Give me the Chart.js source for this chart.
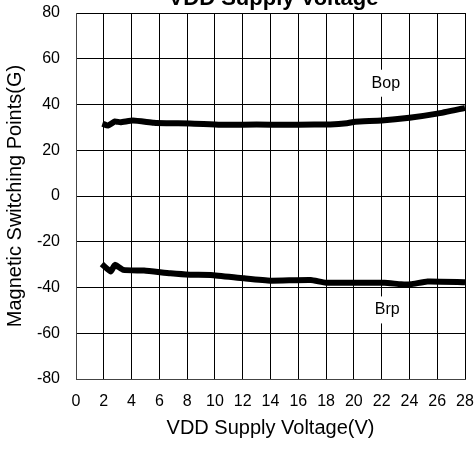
<!DOCTYPE html>
<html>
<head>
<meta charset="utf-8">
<script src="https://cdn.jsdelivr.net/npm/chart.js@4.4.1/dist/chart.umd.min.js"></script>
<style>
html,body{margin:0;padding:0;background:#fff;}
#wrap{width:476px;height:450px;position:relative;}
</style>
</head>
<body>
<div id="wrap"><canvas id="c" width="476" height="450"></canvas></div>
<script>
const chartTitle = "VDD Supply Voltage";
const xTitle = "VDD Supply Voltage(V)";
const yTitle = "Magnetic Switching Points(G)";
const xTicks = [0,2,4,6,8,10,12,14,16,18,20,22,24,26,28];
const yTicks = [-80,-60,-40,-20,0,20,40,60,80];

const bopX = [1.9, 2.3, 2.8, 3.2, 4.1, 5.6, 6.5, 8.2, 10.4, 12, 14, 16, 18.3, 19.5, 20.1, 22, 24, 26, 28];
const bopY = [31.6, 30.8, 32.6, 32.2, 33, 32, 31.8, 31.7, 31.1, 31.2, 31.2, 31.2, 31.3, 31.8, 32.5, 33, 34.2, 36, 38.5];
const brpX = [1.85, 2.5, 2.8, 3.4, 4.9, 6.8, 8.2, 9.7, 12.1, 14, 16.9, 18, 22.2, 23.4, 24.1, 25.3, 28];
const brpY = [-29.7, -33, -30.1, -32.3, -32.6, -33.8, -34.4, -34.5, -36, -37, -36.7, -37.9, -37.9, -38.6, -38.6, -37.4, -37.7];

const labelNames = ["Bop", "Brp"];
const labelX = [22.3, 22.4];
const labelY = [49.3, -49.8];

const FONT = "'Liberation Sans', Arial, sans-serif";

function pts(xs, ys){ return xs.map((x,i)=>({x:x, y:ys[i]})); }

const overlay = {
  id: 'overlay',
  afterDatasetsDraw(chart){
    const ctx = chart.ctx;
    const xs = chart.scales.x, ys = chart.scales.y;
    ctx.save();
    ctx.font = "16px " + FONT;
    ctx.textAlign = 'center';
    ctx.textBaseline = 'middle';
    labelNames.forEach((t,i)=>{
      const px = xs.getPixelForValue(labelX[i]);
      const py = ys.getPixelForValue(labelY[i]);
      const w = ctx.measureText(t).width + 14;
      const h = 27;
      ctx.fillStyle = '#fff';
      ctx.fillRect(px - w/2, py - h/2, w, h);
      ctx.fillStyle = '#000';
      ctx.fillText(t, px, py);
    });
    ctx.font = "bold 22px " + FONT;
    ctx.textBaseline = 'alphabetic';
    ctx.fillText(chartTitle, (chart.chartArea.left + chart.chartArea.right)/2 + 3, 4.5);
    ctx.restore();
  }
};

new Chart(document.getElementById('c'), {
  type: 'line',
  data: {
    datasets: [
      { label: 'Bop', data: pts(bopX, bopY), borderColor: '#000', borderWidth: 6, pointRadius: 0, tension: 0.15, fill: false, borderJoinStyle: 'miter', borderCapStyle: 'butt' },
      { label: 'Brp', data: pts(brpX, brpY), borderColor: '#000', borderWidth: 6, pointRadius: 0, tension: 0.15, fill: false, borderJoinStyle: 'miter', borderCapStyle: 'butt' }
    ]
  },
  options: {
    responsive: false,
    animation: false,
    events: [],
    layout: { padding: { top: 13, right: 11, left: 0, bottom: 0 } },
    plugins: { legend: { display: false }, tooltip: { enabled: false }, title: { display: false } },
    scales: {
      x: {
        type: 'linear', min: 0, max: 28,
        afterBuildTicks(s){ s.ticks = xTicks.map(v=>({value:v})); },
        afterFit(s){ s.height = 71; s.paddingLeft = 0; s.paddingRight = 0; },
        grid: { color: '#000', lineWidth: 1, drawTicks: false },
        border: { color: '#444', width: 1 },
        ticks: { color: '#000', font: { family: FONT, size: 16 }, padding: 13, maxRotation: 0, autoSkip: false },
        title: { display: true, text: xTitle, color: '#000', font: { family: FONT, size: 20 }, padding: { top: 0, bottom: 10 } }
      },
      y: {
        type: 'linear', min: -80, max: 80,
        afterBuildTicks(s){ s.ticks = yTicks.map(v=>({value:v})); },
        afterFit(s){ s.width = 76; s.paddingTop = 0; s.paddingBottom = 0; },
        grid: { color: '#000', lineWidth: 1, drawTicks: false },
        border: { color: '#444', width: 1 },
        ticks: { color: '#000', font: { family: FONT, size: 16 }, padding: 16, autoSkip: false },
        title: { display: true, text: yTitle, color: '#000', font: { family: FONT, size: 20 }, padding: { top: 3, bottom: 0 } }
      }
    }
  },
  plugins: [overlay]
});
</script>
</body>
</html>
